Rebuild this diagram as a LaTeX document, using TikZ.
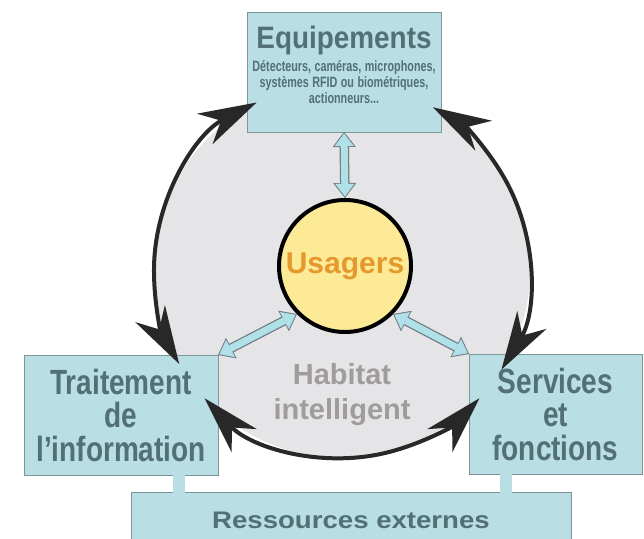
\documentclass[tikz,border=0pt]{standalone}
\usepackage{fontspec}
\setmainfont{Liberation Sans}
\newfontfamily\narrowfont[FakeStretch=0.80]{Liberation Sans}
\newfontfamily\titlefont[FakeStretch=0.90]{Liberation Sans}
\newfontfamily\smallnarrow[FakeStretch=0.72]{Liberation Sans}
\newfontfamily\widefont[FakeStretch=1.15]{Liberation Sans}
\usepackage{tikz}
\usetikzlibrary{arrows.meta,positioning}

\definecolor{boxblue}{RGB}{185,222,228}
\definecolor{boxedge}{RGB}{125,150,156}
\definecolor{boxtext}{RGB}{82,112,118}
\definecolor{habgrey}{RGB}{229,229,231}
\definecolor{habtext}{RGB}{160,156,156}
\definecolor{usfill}{RGB}{252,234,150}
\definecolor{ustext}{RGB}{229,152,44}
\definecolor{arcdark}{RGB}{40,40,40}
\definecolor{lbfill}{RGB}{176,224,232}
\definecolor{lbedge}{RGB}{112,124,130}

\begin{document}
\begin{tikzpicture}[
    x=1pt,y=1pt,
    basic/.style={draw=boxedge,fill=boxblue,line width=0.8pt,inner sep=0pt,outer sep=0pt,text=boxtext,align=center},
    box/.style={basic,minimum width=194pt,minimum height=120pt,font=\narrowfont\bfseries\fontsize{35}{33.5}\selectfont},
    circ/.style={circle,inner sep=0pt},
    blk/.style={draw=arcdark,line width=4pt,{Stealth[length=58pt,width=34pt,inset=18pt]}-{Stealth[length=58pt,width=34pt,inset=18pt]}},
    lbout/.style={draw=lbedge,line width=9.5pt,{Triangle[length=15pt,width=23pt,line width=0.5pt]}-{Triangle[length=15pt,width=23pt,line width=0.5pt]}},
    lbin/.style={draw=lbfill,line width=7pt,{Triangle[length=12.5pt,width=19pt,line width=0.5pt]}-{Triangle[length=12.5pt,width=19pt,line width=0.5pt]},shorten <=1.6pt,shorten >=1.6pt},
    stem/.style={draw=boxblue,line width=12pt,shorten <=-0.8pt,shorten >=-0.8pt},
]
    \useasboundingbox (0,0) rectangle (644,538);
    \clip (0,0) rectangle (644,538);

    %habitat
    \node[circ,fill=habgrey,outer sep=0pt,minimum size=376pt] (habitat) at (342,268) {};
    \node[text=habtext,align=center,font=\bfseries\fontsize{29}{35}\selectfont] (habitxt) at (342,143) {Habitat\\intelligent};

    %usagers
    \node[circ,draw=black,line width=4pt,fill=usfill,minimum size=132pt,text=ustext,font=\bfseries\fontsize{30}{36}\selectfont] (usagers) at (345,272) {Usagers};

    %boxes
    \node[box,text width=194pt] (equip) at (344,466) {%
        {\titlefont\bfseries\fontsize{31}{31}\selectfont Equipements\par}\vspace{4.5pt}
        {\smallnarrow\bfseries\fontsize{15}{16.3}\selectfont\frenchspacing\spaceskip=3.4pt plus 1pt\relax
        \makebox[0pt]{D\'etecteurs, cam\'eras, microphones,}\\
        \makebox[0pt]{syst\`emes RFID ou biom\'etriques,}\\
        \makebox[0pt]{actionneurs...}\par}\vskip14pt\hrule height 0pt width 0pt};
    \node[box] (trait) at (121,123) {Traitement\\de\\l’information};
    \node[box,minimum width=173pt] (serv) at (555.5,124) {Services\\et\\fonctions};
    \node[basic,minimum width=440pt,minimum height=56pt,font=\widefont\bfseries\fontsize{24}{28}\selectfont] (ress) at (351,18) {Ressources externes};

    \draw[stem] ([xshift=58pt]trait.south) -- ([xshift=58pt]trait.south |- ress.north);
    \draw[stem] ([xshift=-49.5pt]serv.south) -- ([xshift=-49.5pt]serv.south |- ress.north);

    %cycle
    \draw[blk] (habitat.117) arc[start angle=117,end angle=210,radius=188pt];
    \draw[blk] (habitat.223) arc[start angle=223,end angle=317,radius=188pt];
    \draw[blk] (habitat.328.5) arc[start angle=328.5,end angle=420.8,radius=188pt];

    %usagers links
    \draw[lbout] (equip.south) -- (usagers.north);
    \draw[lbin] (equip.south) -- (usagers.north);
    \draw[lbout] (usagers.south west) -- (trait.north east);
    \draw[lbin] (usagers.south west) -- (trait.north east);
    \draw[lbout] (usagers.south east) -- (serv.north west);
    \draw[lbin] (usagers.south east) -- (serv.north west);
\end{tikzpicture}
\end{document}
